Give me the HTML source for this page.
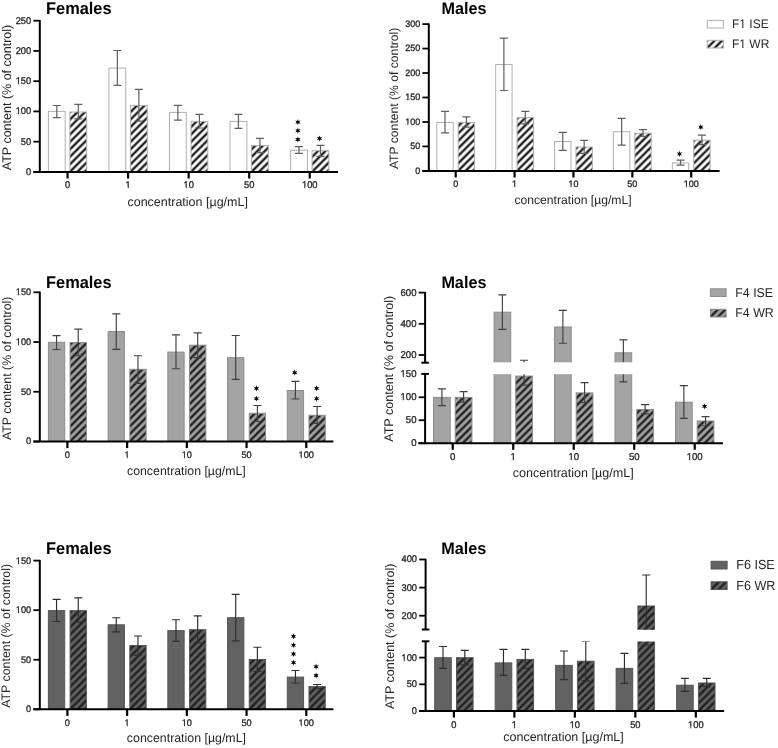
<!DOCTYPE html>
<html><head><meta charset="utf-8"><title>ATP content</title>
<style>html,body{margin:0;padding:0;background:#fff;}body{width:778px;height:748px;overflow:hidden;font-family:"Liberation Sans", sans-serif;}svg{display:block;will-change:transform;}</style>
</head><body>
<svg width="778" height="748" viewBox="0 0 778 748" font-family='"Liberation Sans", sans-serif' text-rendering="geometricPrecision"><defs><pattern id="p0" patternUnits="userSpaceOnUse" width="5.27" height="5.27" patternTransform="translate(69.8 171.9) rotate(45)"><rect width="5.27" height="5.27" fill="#fff"/><rect width="1.2" height="5.27" fill="#202020"/><rect x="4.07" width="1.2" height="5.27" fill="#202020"/></pattern><pattern id="p1" patternUnits="userSpaceOnUse" width="5.27" height="5.27" patternTransform="translate(130.35 171.9) rotate(45)"><rect width="5.27" height="5.27" fill="#fff"/><rect width="1.2" height="5.27" fill="#202020"/><rect x="4.07" width="1.2" height="5.27" fill="#202020"/></pattern><pattern id="p2" patternUnits="userSpaceOnUse" width="5.27" height="5.27" patternTransform="translate(190.9 171.9) rotate(45)"><rect width="5.27" height="5.27" fill="#fff"/><rect width="1.2" height="5.27" fill="#202020"/><rect x="4.07" width="1.2" height="5.27" fill="#202020"/></pattern><pattern id="p3" patternUnits="userSpaceOnUse" width="5.27" height="5.27" patternTransform="translate(251.45 171.9) rotate(45)"><rect width="5.27" height="5.27" fill="#fff"/><rect width="1.2" height="5.27" fill="#202020"/><rect x="4.07" width="1.2" height="5.27" fill="#202020"/></pattern><pattern id="p4" patternUnits="userSpaceOnUse" width="5.27" height="5.27" patternTransform="translate(312 171.9) rotate(45)"><rect width="5.27" height="5.27" fill="#fff"/><rect width="1.2" height="5.27" fill="#202020"/><rect x="4.07" width="1.2" height="5.27" fill="#202020"/></pattern><pattern id="p5" patternUnits="userSpaceOnUse" width="5.27" height="5.27" patternTransform="translate(458.1 170.9) rotate(45)"><rect width="5.27" height="5.27" fill="#fff"/><rect width="1.2" height="5.27" fill="#202020"/><rect x="4.07" width="1.2" height="5.27" fill="#202020"/></pattern><pattern id="p6" patternUnits="userSpaceOnUse" width="5.27" height="5.27" patternTransform="translate(516.98 170.9) rotate(45)"><rect width="5.27" height="5.27" fill="#fff"/><rect width="1.2" height="5.27" fill="#202020"/><rect x="4.07" width="1.2" height="5.27" fill="#202020"/></pattern><pattern id="p7" patternUnits="userSpaceOnUse" width="5.27" height="5.27" patternTransform="translate(575.86 170.9) rotate(45)"><rect width="5.27" height="5.27" fill="#fff"/><rect width="1.2" height="5.27" fill="#202020"/><rect x="4.07" width="1.2" height="5.27" fill="#202020"/></pattern><pattern id="p8" patternUnits="userSpaceOnUse" width="5.27" height="5.27" patternTransform="translate(634.74 170.9) rotate(45)"><rect width="5.27" height="5.27" fill="#fff"/><rect width="1.2" height="5.27" fill="#202020"/><rect x="4.07" width="1.2" height="5.27" fill="#202020"/></pattern><pattern id="p9" patternUnits="userSpaceOnUse" width="5.27" height="5.27" patternTransform="translate(693.62 170.9) rotate(45)"><rect width="5.27" height="5.27" fill="#fff"/><rect width="1.2" height="5.27" fill="#202020"/><rect x="4.07" width="1.2" height="5.27" fill="#202020"/></pattern><pattern id="p10" patternUnits="userSpaceOnUse" width="5.27" height="5.27" patternTransform="translate(706.7 48.5) rotate(45)"><rect width="5.27" height="5.27" fill="#fff"/><rect width="1.2" height="5.27" fill="#202020"/><rect x="4.07" width="1.2" height="5.27" fill="#202020"/></pattern><pattern id="p11" patternUnits="userSpaceOnUse" width="5.27" height="5.27" patternTransform="translate(70 441.5) rotate(45)"><rect width="5.27" height="5.27" fill="#a3a3a3"/><rect width="1.2" height="5.27" fill="#202020"/><rect x="4.07" width="1.2" height="5.27" fill="#202020"/></pattern><pattern id="p12" patternUnits="userSpaceOnUse" width="5.27" height="5.27" patternTransform="translate(129.72 441.5) rotate(45)"><rect width="5.27" height="5.27" fill="#a3a3a3"/><rect width="1.2" height="5.27" fill="#202020"/><rect x="4.07" width="1.2" height="5.27" fill="#202020"/></pattern><pattern id="p13" patternUnits="userSpaceOnUse" width="5.27" height="5.27" patternTransform="translate(189.44 441.5) rotate(45)"><rect width="5.27" height="5.27" fill="#a3a3a3"/><rect width="1.2" height="5.27" fill="#202020"/><rect x="4.07" width="1.2" height="5.27" fill="#202020"/></pattern><pattern id="p14" patternUnits="userSpaceOnUse" width="5.27" height="5.27" patternTransform="translate(249.16 441.5) rotate(45)"><rect width="5.27" height="5.27" fill="#a3a3a3"/><rect width="1.2" height="5.27" fill="#202020"/><rect x="4.07" width="1.2" height="5.27" fill="#202020"/></pattern><pattern id="p15" patternUnits="userSpaceOnUse" width="5.27" height="5.27" patternTransform="translate(308.88 441.5) rotate(45)"><rect width="5.27" height="5.27" fill="#a3a3a3"/><rect width="1.2" height="5.27" fill="#202020"/><rect x="4.07" width="1.2" height="5.27" fill="#202020"/></pattern><pattern id="p16" patternUnits="userSpaceOnUse" width="5.27" height="5.27" patternTransform="translate(455.15 443.2) rotate(45)"><rect width="5.27" height="5.27" fill="#a3a3a3"/><rect width="1.2" height="5.27" fill="#202020"/><rect x="4.07" width="1.2" height="5.27" fill="#202020"/></pattern><pattern id="p17" patternUnits="userSpaceOnUse" width="5.27" height="5.27" patternTransform="translate(515.64 443.2) rotate(45)"><rect width="5.27" height="5.27" fill="#a3a3a3"/><rect width="1.2" height="5.27" fill="#202020"/><rect x="4.07" width="1.2" height="5.27" fill="#202020"/></pattern><pattern id="p18" patternUnits="userSpaceOnUse" width="5.27" height="5.27" patternTransform="translate(576.13 443.2) rotate(45)"><rect width="5.27" height="5.27" fill="#a3a3a3"/><rect width="1.2" height="5.27" fill="#202020"/><rect x="4.07" width="1.2" height="5.27" fill="#202020"/></pattern><pattern id="p19" patternUnits="userSpaceOnUse" width="5.27" height="5.27" patternTransform="translate(636.62 443.2) rotate(45)"><rect width="5.27" height="5.27" fill="#a3a3a3"/><rect width="1.2" height="5.27" fill="#202020"/><rect x="4.07" width="1.2" height="5.27" fill="#202020"/></pattern><pattern id="p20" patternUnits="userSpaceOnUse" width="5.27" height="5.27" patternTransform="translate(697.11 443.2) rotate(45)"><rect width="5.27" height="5.27" fill="#a3a3a3"/><rect width="1.2" height="5.27" fill="#202020"/><rect x="4.07" width="1.2" height="5.27" fill="#202020"/></pattern><pattern id="p21" patternUnits="userSpaceOnUse" width="5.27" height="5.27" patternTransform="translate(709.9 317.5) rotate(45)"><rect width="5.27" height="5.27" fill="#a3a3a3"/><rect width="1.2" height="5.27" fill="#202020"/><rect x="4.07" width="1.2" height="5.27" fill="#202020"/></pattern><pattern id="p22" patternUnits="userSpaceOnUse" width="5.27" height="5.27" patternTransform="translate(70 709.3) rotate(45)"><rect width="5.27" height="5.27" fill="#626262"/><rect width="1.2" height="5.27" fill="#202020"/><rect x="4.07" width="1.2" height="5.27" fill="#202020"/></pattern><pattern id="p23" patternUnits="userSpaceOnUse" width="5.27" height="5.27" patternTransform="translate(129.72 709.3) rotate(45)"><rect width="5.27" height="5.27" fill="#626262"/><rect width="1.2" height="5.27" fill="#202020"/><rect x="4.07" width="1.2" height="5.27" fill="#202020"/></pattern><pattern id="p24" patternUnits="userSpaceOnUse" width="5.27" height="5.27" patternTransform="translate(189.44 709.3) rotate(45)"><rect width="5.27" height="5.27" fill="#626262"/><rect width="1.2" height="5.27" fill="#202020"/><rect x="4.07" width="1.2" height="5.27" fill="#202020"/></pattern><pattern id="p25" patternUnits="userSpaceOnUse" width="5.27" height="5.27" patternTransform="translate(249.16 709.3) rotate(45)"><rect width="5.27" height="5.27" fill="#626262"/><rect width="1.2" height="5.27" fill="#202020"/><rect x="4.07" width="1.2" height="5.27" fill="#202020"/></pattern><pattern id="p26" patternUnits="userSpaceOnUse" width="5.27" height="5.27" patternTransform="translate(308.88 709.3) rotate(45)"><rect width="5.27" height="5.27" fill="#626262"/><rect width="1.2" height="5.27" fill="#202020"/><rect x="4.07" width="1.2" height="5.27" fill="#202020"/></pattern><pattern id="p27" patternUnits="userSpaceOnUse" width="5.27" height="5.27" patternTransform="translate(456.4 711) rotate(45)"><rect width="5.27" height="5.27" fill="#626262"/><rect width="1.2" height="5.27" fill="#202020"/><rect x="4.07" width="1.2" height="5.27" fill="#202020"/></pattern><pattern id="p28" patternUnits="userSpaceOnUse" width="5.27" height="5.27" patternTransform="translate(516.88 711) rotate(45)"><rect width="5.27" height="5.27" fill="#626262"/><rect width="1.2" height="5.27" fill="#202020"/><rect x="4.07" width="1.2" height="5.27" fill="#202020"/></pattern><pattern id="p29" patternUnits="userSpaceOnUse" width="5.27" height="5.27" patternTransform="translate(577.36 711) rotate(45)"><rect width="5.27" height="5.27" fill="#626262"/><rect width="1.2" height="5.27" fill="#202020"/><rect x="4.07" width="1.2" height="5.27" fill="#202020"/></pattern><pattern id="p30" patternUnits="userSpaceOnUse" width="5.27" height="5.27" patternTransform="translate(637.84 711) rotate(45)"><rect width="5.27" height="5.27" fill="#626262"/><rect width="1.2" height="5.27" fill="#202020"/><rect x="4.07" width="1.2" height="5.27" fill="#202020"/></pattern><pattern id="p31" patternUnits="userSpaceOnUse" width="5.27" height="5.27" patternTransform="translate(698.32 711) rotate(45)"><rect width="5.27" height="5.27" fill="#626262"/><rect width="1.2" height="5.27" fill="#202020"/><rect x="4.07" width="1.2" height="5.27" fill="#202020"/></pattern><pattern id="p32" patternUnits="userSpaceOnUse" width="5.27" height="5.27" patternTransform="translate(710.6 590) rotate(45)"><rect width="5.27" height="5.27" fill="#626262"/><rect width="1.2" height="5.27" fill="#202020"/><rect x="4.07" width="1.2" height="5.27" fill="#202020"/></pattern></defs><rect width="778" height="748" fill="#fff"/><rect x="48.4" y="111.4" width="16.8" height="60.5" fill="#fff" stroke="#b0b0b0" stroke-width="1"/>
<rect x="69.9" y="112" width="16.8" height="59.9" fill="url(#p0)" stroke="#b0b0b0" stroke-width="1"/>
<rect x="108.95" y="68.1" width="16.8" height="103.8" fill="#fff" stroke="#b0b0b0" stroke-width="1"/>
<rect x="130.45" y="105.4" width="16.8" height="66.5" fill="url(#p1)" stroke="#b0b0b0" stroke-width="1"/>
<rect x="169.5" y="112.4" width="16.8" height="59.5" fill="#fff" stroke="#b0b0b0" stroke-width="1"/>
<rect x="191" y="121.4" width="16.8" height="50.5" fill="url(#p2)" stroke="#b0b0b0" stroke-width="1"/>
<rect x="230.05" y="121.4" width="16.8" height="50.5" fill="#fff" stroke="#b0b0b0" stroke-width="1"/>
<rect x="251.55" y="145.5" width="16.8" height="26.4" fill="url(#p3)" stroke="#b0b0b0" stroke-width="1"/>
<rect x="290.6" y="150.2" width="16.8" height="21.7" fill="#fff" stroke="#b0b0b0" stroke-width="1"/>
<rect x="312.1" y="150.7" width="16.8" height="21.2" fill="url(#p4)" stroke="#b0b0b0" stroke-width="1"/>
<path d="M56.8 105.5V117.6M52.8 105.5H60.8M52.8 117.6H60.8" stroke="#606060" stroke-width="1.2" fill="none"/>
<path d="M78.3 104.3V118.8M74.3 104.3H82.3M74.3 118.8H82.3" stroke="#606060" stroke-width="1.2" fill="none"/>
<path d="M117.35 50.5V85.3M113.35 50.5H121.35M113.35 85.3H121.35" stroke="#606060" stroke-width="1.2" fill="none"/>
<path d="M138.85 89.3V121.2M134.85 89.3H142.85M134.85 121.2H142.85" stroke="#606060" stroke-width="1.2" fill="none"/>
<path d="M177.9 105.3V120.1M173.9 105.3H181.9M173.9 120.1H181.9" stroke="#606060" stroke-width="1.2" fill="none"/>
<path d="M199.4 114.3V128M195.4 114.3H203.4M195.4 128H203.4" stroke="#606060" stroke-width="1.2" fill="none"/>
<path d="M238.45 114.3V128.3M234.45 114.3H242.45M234.45 128.3H242.45" stroke="#606060" stroke-width="1.2" fill="none"/>
<path d="M259.95 138.3V152.6M255.95 138.3H263.95M255.95 152.6H263.95" stroke="#606060" stroke-width="1.2" fill="none"/>
<path d="M299 146.6V153.4M295 146.6H303M295 153.4H303" stroke="#606060" stroke-width="1.2" fill="none"/>
<path d="M320.5 145.4V156.4M316.5 145.4H324.5M316.5 156.4H324.5" stroke="#606060" stroke-width="1.2" fill="none"/>
<path d="M39.8 20V171.9" stroke="#000" stroke-width="2" fill="none"/>
<path d="M33.4 171.9H39.8" stroke="#000" stroke-width="1.8" fill="none"/>
<text x="31.2" y="174.8" transform="translate(31.2 174.8) scale(1 1.04) translate(-31.2 -174.8)" text-anchor="end" font-size="9.3" fill="#262626" stroke="#262626" stroke-width="0.3">0</text>
<path d="M33.4 141.66H39.8" stroke="#000" stroke-width="1.8" fill="none"/>
<text x="31.2" y="144.56" transform="translate(31.2 144.56) scale(1 1.04) translate(-31.2 -144.56)" text-anchor="end" font-size="9.3" fill="#262626" stroke="#262626" stroke-width="0.3">50</text>
<path d="M33.4 111.42H39.8" stroke="#000" stroke-width="1.8" fill="none"/>
<text x="31.2" y="114.32" transform="translate(31.2 114.32) scale(1 1.04) translate(-31.2 -114.32)" text-anchor="end" font-size="9.3" fill="#262626" stroke="#262626" stroke-width="0.3">100</text>
<path d="M33.4 81.18H39.8" stroke="#000" stroke-width="1.8" fill="none"/>
<text x="31.2" y="84.08" transform="translate(31.2 84.08) scale(1 1.04) translate(-31.2 -84.08)" text-anchor="end" font-size="9.3" fill="#262626" stroke="#262626" stroke-width="0.3">150</text>
<path d="M33.4 50.94H39.8" stroke="#000" stroke-width="1.8" fill="none"/>
<text x="31.2" y="53.84" transform="translate(31.2 53.84) scale(1 1.04) translate(-31.2 -53.84)" text-anchor="end" font-size="9.3" fill="#262626" stroke="#262626" stroke-width="0.3">200</text>
<path d="M33.4 20.7H39.8" stroke="#000" stroke-width="1.8" fill="none"/>
<text x="31.2" y="23.6" transform="translate(31.2 23.6) scale(1 1.04) translate(-31.2 -23.6)" text-anchor="end" font-size="9.3" fill="#262626" stroke="#262626" stroke-width="0.3">250</text>
<path d="M33.4 171.9H338" stroke="#000" stroke-width="2" fill="none"/>
<path d="M67.55 171.9V178.5" stroke="#000" stroke-width="2.2" fill="none"/>
<text x="67.55" y="187.9" transform="translate(67.55 187.9) scale(1 1.04) translate(-67.55 -187.9)" text-anchor="middle" font-size="9.3" fill="#262626" stroke="#262626" stroke-width="0.3">0</text>
<path d="M128.1 171.9V178.5" stroke="#000" stroke-width="2.2" fill="none"/>
<text x="128.1" y="187.9" transform="translate(128.1 187.9) scale(1 1.04) translate(-128.1 -187.9)" text-anchor="middle" font-size="9.3" fill="#262626" stroke="#262626" stroke-width="0.3">1</text>
<path d="M188.65 171.9V178.5" stroke="#000" stroke-width="2.2" fill="none"/>
<text x="188.65" y="187.9" transform="translate(188.65 187.9) scale(1 1.04) translate(-188.65 -187.9)" text-anchor="middle" font-size="9.3" fill="#262626" stroke="#262626" stroke-width="0.3">10</text>
<path d="M249.2 171.9V178.5" stroke="#000" stroke-width="2.2" fill="none"/>
<text x="249.2" y="187.9" transform="translate(249.2 187.9) scale(1 1.04) translate(-249.2 -187.9)" text-anchor="middle" font-size="9.3" fill="#262626" stroke="#262626" stroke-width="0.3">50</text>
<path d="M309.75 171.9V178.5" stroke="#000" stroke-width="2.2" fill="none"/>
<text x="309.75" y="187.9" transform="translate(309.75 187.9) scale(1 1.04) translate(-309.75 -187.9)" text-anchor="middle" font-size="9.3" fill="#262626" stroke="#262626" stroke-width="0.3">100</text>
<text x="187.7" y="206.2" text-anchor="middle" font-size="12.5" fill="#262626">concentration [µg/mL]</text>
<text transform="translate(10.6 97.5) rotate(-90)" text-anchor="middle" font-size="12.5" fill="#262626">ATP content (% of control)</text>
<text x="46" y="13.9" transform="translate(46 13.9) scale(1 1.035) translate(-46 -13.9)" font-size="16.4" font-weight="bold" fill="#000">Females</text>
<polygon points="297.9,119 298.55,120.97 300.58,120.55 299.2,122.1 300.58,123.65 298.55,123.23 297.9,125.2 297.25,123.23 295.22,123.65 296.6,122.1 295.22,120.55 297.25,120.97" fill="#000"/>
<polygon points="297.9,127.6 298.55,129.57 300.58,129.15 299.2,130.7 300.58,132.25 298.55,131.83 297.9,133.8 297.25,131.83 295.22,132.25 296.6,130.7 295.22,129.15 297.25,129.57" fill="#000"/>
<polygon points="297.9,136.4 298.55,138.37 300.58,137.95 299.2,139.5 300.58,141.05 298.55,140.63 297.9,142.6 297.25,140.63 295.22,141.05 296.6,139.5 295.22,137.95 297.25,138.37" fill="#000"/>
<polygon points="319.5,135.4 320.15,137.37 322.18,136.95 320.8,138.5 322.18,140.05 320.15,139.63 319.5,141.6 318.85,139.63 316.82,140.05 318.2,138.5 316.82,136.95 318.85,137.37" fill="#000"/>
<rect x="436.8" y="122.4" width="16.4" height="48.5" fill="#fff" stroke="#b0b0b0" stroke-width="1"/>
<rect x="458.2" y="122.4" width="16.4" height="48.5" fill="url(#p5)" stroke="#b0b0b0" stroke-width="1"/>
<rect x="495.68" y="64.5" width="16.4" height="106.4" fill="#fff" stroke="#b0b0b0" stroke-width="1"/>
<rect x="517.08" y="117.6" width="16.4" height="53.3" fill="url(#p6)" stroke="#b0b0b0" stroke-width="1"/>
<rect x="554.56" y="141.5" width="16.4" height="29.4" fill="#fff" stroke="#b0b0b0" stroke-width="1"/>
<rect x="575.96" y="147" width="16.4" height="23.9" fill="url(#p7)" stroke="#b0b0b0" stroke-width="1"/>
<rect x="613.44" y="131.7" width="16.4" height="39.2" fill="#fff" stroke="#b0b0b0" stroke-width="1"/>
<rect x="634.84" y="133.2" width="16.4" height="37.7" fill="url(#p8)" stroke="#b0b0b0" stroke-width="1"/>
<rect x="672.32" y="163" width="16.4" height="7.9" fill="#fff" stroke="#b0b0b0" stroke-width="1"/>
<rect x="693.72" y="140.2" width="16.4" height="30.7" fill="url(#p9)" stroke="#b0b0b0" stroke-width="1"/>
<path d="M445 111.3V132.8M441 111.3H449M441 132.8H449" stroke="#606060" stroke-width="1.2" fill="none"/>
<path d="M466.4 116.8V127.1M462.4 116.8H470.4M462.4 127.1H470.4" stroke="#606060" stroke-width="1.2" fill="none"/>
<path d="M503.88 38.1V90.5M499.88 38.1H507.88M499.88 90.5H507.88" stroke="#606060" stroke-width="1.2" fill="none"/>
<path d="M525.28 111.3V123.8M521.28 111.3H529.28M521.28 123.8H529.28" stroke="#606060" stroke-width="1.2" fill="none"/>
<path d="M562.76 132.3V150.4M558.76 132.3H566.76M558.76 150.4H566.76" stroke="#606060" stroke-width="1.2" fill="none"/>
<path d="M584.16 140.4V153.4M580.16 140.4H588.16M580.16 153.4H588.16" stroke="#606060" stroke-width="1.2" fill="none"/>
<path d="M621.64 118.3V145.1M617.64 118.3H625.64M617.64 145.1H625.64" stroke="#606060" stroke-width="1.2" fill="none"/>
<path d="M643.04 129.6V136.3M639.04 129.6H647.04M639.04 136.3H647.04" stroke="#606060" stroke-width="1.2" fill="none"/>
<path d="M680.52 160.2V165.2M676.52 160.2H684.52M676.52 165.2H684.52" stroke="#606060" stroke-width="1.2" fill="none"/>
<path d="M701.92 135.1V144.6M697.92 135.1H705.92M697.92 144.6H705.92" stroke="#606060" stroke-width="1.2" fill="none"/>
<path d="M428.8 23.4V170.9" stroke="#000" stroke-width="2" fill="none"/>
<path d="M422.4 170.9H428.8" stroke="#000" stroke-width="1.8" fill="none"/>
<text x="420.2" y="173.8" transform="translate(420.2 173.8) scale(1 1.04) translate(-420.2 -173.8)" text-anchor="end" font-size="9.0" fill="#262626" stroke="#262626" stroke-width="0.3">0</text>
<path d="M422.4 146.43H428.8" stroke="#000" stroke-width="1.8" fill="none"/>
<text x="420.2" y="149.33" transform="translate(420.2 149.33) scale(1 1.04) translate(-420.2 -149.33)" text-anchor="end" font-size="9.0" fill="#262626" stroke="#262626" stroke-width="0.3">50</text>
<path d="M422.4 121.97H428.8" stroke="#000" stroke-width="1.8" fill="none"/>
<text x="420.2" y="124.87" transform="translate(420.2 124.87) scale(1 1.04) translate(-420.2 -124.87)" text-anchor="end" font-size="9.0" fill="#262626" stroke="#262626" stroke-width="0.3">100</text>
<path d="M422.4 97.5H428.8" stroke="#000" stroke-width="1.8" fill="none"/>
<text x="420.2" y="100.4" transform="translate(420.2 100.4) scale(1 1.04) translate(-420.2 -100.4)" text-anchor="end" font-size="9.0" fill="#262626" stroke="#262626" stroke-width="0.3">150</text>
<path d="M422.4 73.03H428.8" stroke="#000" stroke-width="1.8" fill="none"/>
<text x="420.2" y="75.93" transform="translate(420.2 75.93) scale(1 1.04) translate(-420.2 -75.93)" text-anchor="end" font-size="9.0" fill="#262626" stroke="#262626" stroke-width="0.3">200</text>
<path d="M422.4 48.57H428.8" stroke="#000" stroke-width="1.8" fill="none"/>
<text x="420.2" y="51.47" transform="translate(420.2 51.47) scale(1 1.04) translate(-420.2 -51.47)" text-anchor="end" font-size="9.0" fill="#262626" stroke="#262626" stroke-width="0.3">250</text>
<path d="M422.4 24.1H428.8" stroke="#000" stroke-width="1.8" fill="none"/>
<text x="420.2" y="27" transform="translate(420.2 27) scale(1 1.04) translate(-420.2 -27)" text-anchor="end" font-size="9.0" fill="#262626" stroke="#262626" stroke-width="0.3">300</text>
<path d="M422.4 170.9H719.6" stroke="#000" stroke-width="2" fill="none"/>
<path d="M455.7 170.9V177.5" stroke="#000" stroke-width="2.2" fill="none"/>
<text x="455.7" y="187.1" transform="translate(455.7 187.1) scale(1 1.04) translate(-455.7 -187.1)" text-anchor="middle" font-size="9.0" fill="#262626" stroke="#262626" stroke-width="0.3">0</text>
<path d="M514.58 170.9V177.5" stroke="#000" stroke-width="2.2" fill="none"/>
<text x="514.58" y="187.1" transform="translate(514.58 187.1) scale(1 1.04) translate(-514.58 -187.1)" text-anchor="middle" font-size="9.0" fill="#262626" stroke="#262626" stroke-width="0.3">1</text>
<path d="M573.46 170.9V177.5" stroke="#000" stroke-width="2.2" fill="none"/>
<text x="573.46" y="187.1" transform="translate(573.46 187.1) scale(1 1.04) translate(-573.46 -187.1)" text-anchor="middle" font-size="9.0" fill="#262626" stroke="#262626" stroke-width="0.3">10</text>
<path d="M632.34 170.9V177.5" stroke="#000" stroke-width="2.2" fill="none"/>
<text x="632.34" y="187.1" transform="translate(632.34 187.1) scale(1 1.04) translate(-632.34 -187.1)" text-anchor="middle" font-size="9.0" fill="#262626" stroke="#262626" stroke-width="0.3">50</text>
<path d="M691.22 170.9V177.5" stroke="#000" stroke-width="2.2" fill="none"/>
<text x="691.22" y="187.1" transform="translate(691.22 187.1) scale(1 1.04) translate(-691.22 -187.1)" text-anchor="middle" font-size="9.0" fill="#262626" stroke="#262626" stroke-width="0.3">100</text>
<text x="573" y="204.4" text-anchor="middle" font-size="12.17" fill="#262626">concentration [µg/mL]</text>
<text transform="translate(397.6 98.4) rotate(-90)" text-anchor="middle" font-size="12.17" fill="#262626">ATP content (% of control)</text>
<text x="441.6" y="14.2" transform="translate(441.6 14.2) scale(1 1.035) translate(-441.6 -14.2)" font-size="16.2" font-weight="bold" fill="#000">Males</text>
<polygon points="679.5,150.8 680.15,152.77 682.18,152.35 680.8,153.9 682.18,155.45 680.15,155.03 679.5,157 678.85,155.03 676.82,155.45 678.2,153.9 676.82,152.35 678.85,152.77" fill="#000"/>
<polygon points="700.8,124 701.45,125.97 703.48,125.55 702.1,127.1 703.48,128.65 701.45,128.23 700.8,130.2 700.15,128.23 698.12,128.65 699.5,127.1 698.12,125.55 700.15,125.97" fill="#000"/>
<rect x="707.2" y="20.3" width="16.2" height="7.7" fill="#fff" stroke="#b0b0b0" stroke-width="1"/>
<rect x="707.2" y="40.3" width="16.2" height="7.7" fill="url(#p10)" stroke="#b0b0b0" stroke-width="1"/>
<text x="732" y="28" transform="translate(732 28) scale(1 1.04) translate(-732 -28)" font-size="12.0" fill="#262626">F1 ISE</text>
<text x="732" y="48" transform="translate(732 48) scale(1 1.04) translate(-732 -48)" font-size="12.0" fill="#262626">F1 WR</text>
<rect x="48.4" y="342.3" width="16.3" height="99.2" fill="#a3a3a3" stroke="#8c8c8c" stroke-width="1"/>
<rect x="70.1" y="342.5" width="16.3" height="99" fill="url(#p11)" stroke="#8c8c8c" stroke-width="1"/>
<rect x="108.12" y="331.5" width="16.3" height="110" fill="#a3a3a3" stroke="#8c8c8c" stroke-width="1"/>
<rect x="129.82" y="369.3" width="16.3" height="72.2" fill="url(#p12)" stroke="#8c8c8c" stroke-width="1"/>
<rect x="167.84" y="352.1" width="16.3" height="89.4" fill="#a3a3a3" stroke="#8c8c8c" stroke-width="1"/>
<rect x="189.54" y="345.2" width="16.3" height="96.3" fill="url(#p13)" stroke="#8c8c8c" stroke-width="1"/>
<rect x="227.56" y="357.7" width="16.3" height="83.8" fill="#a3a3a3" stroke="#8c8c8c" stroke-width="1"/>
<rect x="249.26" y="413.3" width="16.3" height="28.2" fill="url(#p14)" stroke="#8c8c8c" stroke-width="1"/>
<rect x="287.28" y="390.5" width="16.3" height="51" fill="#a3a3a3" stroke="#8c8c8c" stroke-width="1"/>
<rect x="308.98" y="415.3" width="16.3" height="26.2" fill="url(#p15)" stroke="#8c8c8c" stroke-width="1"/>
<path d="M56.55 335.6V349.5M52.55 335.6H60.55M52.55 349.5H60.55" stroke="#404040" stroke-width="1.15" fill="none"/>
<path d="M78.25 329.1V355.7M74.25 329.1H82.25M74.25 355.7H82.25" stroke="#404040" stroke-width="1.15" fill="none"/>
<path d="M116.27 313.9V349.4M112.27 313.9H120.27M112.27 349.4H120.27" stroke="#404040" stroke-width="1.15" fill="none"/>
<path d="M137.97 355.7V383.3M133.97 355.7H141.97M133.97 383.3H141.97" stroke="#404040" stroke-width="1.15" fill="none"/>
<path d="M175.99 334.9V368.7M171.99 334.9H179.99M171.99 368.7H179.99" stroke="#404040" stroke-width="1.15" fill="none"/>
<path d="M197.69 332.8V357.6M193.69 332.8H201.69M193.69 357.6H201.69" stroke="#404040" stroke-width="1.15" fill="none"/>
<path d="M235.71 335.5V379.4M231.71 335.5H239.71M231.71 379.4H239.71" stroke="#404040" stroke-width="1.15" fill="none"/>
<path d="M257.41 405.5V421.5M253.41 405.5H261.41M253.41 421.5H261.41" stroke="#404040" stroke-width="1.15" fill="none"/>
<path d="M295.43 381.4V399M291.43 381.4H299.43M291.43 399H299.43" stroke="#404040" stroke-width="1.15" fill="none"/>
<path d="M317.13 406.5V423.3M313.13 406.5H321.13M313.13 423.3H321.13" stroke="#404040" stroke-width="1.15" fill="none"/>
<path d="M39.8 291.6V441.5" stroke="#000" stroke-width="2" fill="none"/>
<path d="M33.4 441.5H39.8" stroke="#000" stroke-width="1.8" fill="none"/>
<text x="31.2" y="444.4" transform="translate(31.2 444.4) scale(1 1.04) translate(-31.2 -444.4)" text-anchor="end" font-size="9.2" fill="#262626" stroke="#262626" stroke-width="0.3">0</text>
<path d="M33.4 391.77H39.8" stroke="#000" stroke-width="1.8" fill="none"/>
<text x="31.2" y="394.67" transform="translate(31.2 394.67) scale(1 1.04) translate(-31.2 -394.67)" text-anchor="end" font-size="9.2" fill="#262626" stroke="#262626" stroke-width="0.3">50</text>
<path d="M33.4 342.03H39.8" stroke="#000" stroke-width="1.8" fill="none"/>
<text x="31.2" y="344.93" transform="translate(31.2 344.93) scale(1 1.04) translate(-31.2 -344.93)" text-anchor="end" font-size="9.2" fill="#262626" stroke="#262626" stroke-width="0.3">100</text>
<path d="M33.4 292.3H39.8" stroke="#000" stroke-width="1.8" fill="none"/>
<text x="31.2" y="295.2" transform="translate(31.2 295.2) scale(1 1.04) translate(-31.2 -295.2)" text-anchor="end" font-size="9.2" fill="#262626" stroke="#262626" stroke-width="0.3">150</text>
<path d="M33.4 441.5H333.4" stroke="#000" stroke-width="2" fill="none"/>
<path d="M67.4 441.5V448.1" stroke="#000" stroke-width="2.2" fill="none"/>
<text x="67.4" y="458" transform="translate(67.4 458) scale(1 1.04) translate(-67.4 -458)" text-anchor="middle" font-size="9.2" fill="#262626" stroke="#262626" stroke-width="0.3">0</text>
<path d="M127.12 441.5V448.1" stroke="#000" stroke-width="2.2" fill="none"/>
<text x="127.12" y="458" transform="translate(127.12 458) scale(1 1.04) translate(-127.12 -458)" text-anchor="middle" font-size="9.2" fill="#262626" stroke="#262626" stroke-width="0.3">1</text>
<path d="M186.84 441.5V448.1" stroke="#000" stroke-width="2.2" fill="none"/>
<text x="186.84" y="458" transform="translate(186.84 458) scale(1 1.04) translate(-186.84 -458)" text-anchor="middle" font-size="9.2" fill="#262626" stroke="#262626" stroke-width="0.3">10</text>
<path d="M246.56 441.5V448.1" stroke="#000" stroke-width="2.2" fill="none"/>
<text x="246.56" y="458" transform="translate(246.56 458) scale(1 1.04) translate(-246.56 -458)" text-anchor="middle" font-size="9.2" fill="#262626" stroke="#262626" stroke-width="0.3">50</text>
<path d="M306.28 441.5V448.1" stroke="#000" stroke-width="2.2" fill="none"/>
<text x="306.28" y="458" transform="translate(306.28 458) scale(1 1.04) translate(-306.28 -458)" text-anchor="middle" font-size="9.2" fill="#262626" stroke="#262626" stroke-width="0.3">100</text>
<text x="186.4" y="474.6" text-anchor="middle" font-size="12.33" fill="#262626">concentration [µg/mL]</text>
<text transform="translate(10.9 368.35) rotate(-90)" text-anchor="middle" font-size="12.33" fill="#262626">ATP content (% of control)</text>
<text x="46" y="288.3" transform="translate(46 288.3) scale(1 1.035) translate(-46 -288.3)" font-size="16.4" font-weight="bold" fill="#000">Females</text>
<polygon points="256.4,385.3 257.05,387.27 259.08,386.85 257.7,388.4 259.08,389.95 257.05,389.53 256.4,391.5 255.75,389.53 253.72,389.95 255.1,388.4 253.72,386.85 255.75,387.27" fill="#000"/>
<polygon points="256.4,395.6 257.05,397.57 259.08,397.15 257.7,398.7 259.08,400.25 257.05,399.83 256.4,401.8 255.75,399.83 253.72,400.25 255.1,398.7 253.72,397.15 255.75,397.57" fill="#000"/>
<polygon points="294.8,369.5 295.45,371.47 297.48,371.05 296.1,372.6 297.48,374.15 295.45,373.73 294.8,375.7 294.15,373.73 292.12,374.15 293.5,372.6 292.12,371.05 294.15,371.47" fill="#000"/>
<polygon points="316.6,385.3 317.25,387.27 319.28,386.85 317.9,388.4 319.28,389.95 317.25,389.53 316.6,391.5 315.95,389.53 313.92,389.95 315.3,388.4 313.92,386.85 315.95,387.27" fill="#000"/>
<polygon points="316.6,395.6 317.25,397.57 319.28,397.15 317.9,398.7 319.28,400.25 317.25,399.83 316.6,401.8 315.95,399.83 313.92,400.25 315.3,398.7 313.92,397.15 315.95,397.57" fill="#000"/>
<rect x="433.55" y="397.4" width="16.7" height="45.8" fill="#a3a3a3" stroke="#8c8c8c" stroke-width="1"/>
<rect x="455.25" y="397.4" width="16.7" height="45.8" fill="url(#p16)" stroke="#8c8c8c" stroke-width="1"/>
<rect x="494.04" y="312.2" width="16.7" height="131" fill="#a3a3a3" stroke="#8c8c8c" stroke-width="1"/>
<rect x="515.74" y="376.1" width="16.7" height="67.1" fill="url(#p17)" stroke="#8c8c8c" stroke-width="1"/>
<rect x="554.53" y="327" width="16.7" height="116.2" fill="#a3a3a3" stroke="#8c8c8c" stroke-width="1"/>
<rect x="576.23" y="392.9" width="16.7" height="50.3" fill="url(#p18)" stroke="#8c8c8c" stroke-width="1"/>
<rect x="615.02" y="352.8" width="16.7" height="90.4" fill="#a3a3a3" stroke="#8c8c8c" stroke-width="1"/>
<rect x="636.72" y="409.5" width="16.7" height="33.7" fill="url(#p19)" stroke="#8c8c8c" stroke-width="1"/>
<rect x="675.51" y="402.2" width="16.7" height="41" fill="#a3a3a3" stroke="#8c8c8c" stroke-width="1"/>
<rect x="697.21" y="421" width="16.7" height="22.2" fill="url(#p20)" stroke="#8c8c8c" stroke-width="1"/>
<path d="M441.9 388.8V405.6M437.9 388.8H445.9M437.9 405.6H445.9" stroke="#404040" stroke-width="1.15" fill="none"/>
<path d="M463.6 391.6V402.1M459.6 391.6H467.6M459.6 402.1H467.6" stroke="#404040" stroke-width="1.15" fill="none"/>
<path d="M502.39 294.8V329.4M498.39 294.8H506.39M498.39 329.4H506.39" stroke="#404040" stroke-width="1.15" fill="none"/>
<path d="M524.09 360.2V385.1M520.09 360.2H528.09M520.09 385.1H528.09" stroke="#404040" stroke-width="1.15" fill="none"/>
<path d="M562.88 310.4V343.2M558.88 310.4H566.88M558.88 343.2H566.88" stroke="#404040" stroke-width="1.15" fill="none"/>
<path d="M584.58 382.6V402.6M580.58 382.6H588.58M580.58 402.6H588.58" stroke="#404040" stroke-width="1.15" fill="none"/>
<path d="M623.37 339.9V381.8M619.37 339.9H627.37M619.37 381.8H627.37" stroke="#404040" stroke-width="1.15" fill="none"/>
<path d="M645.07 404.6V413.9M641.07 404.6H649.07M641.07 413.9H649.07" stroke="#404040" stroke-width="1.15" fill="none"/>
<path d="M683.86 385.6V418.4M679.86 385.6H687.86M679.86 418.4H687.86" stroke="#404040" stroke-width="1.15" fill="none"/>
<path d="M705.56 416.6V425.7M701.56 416.6H709.56M701.56 425.7H709.56" stroke="#404040" stroke-width="1.15" fill="none"/>
<rect x="427.1" y="362.3" width="297.8" height="11.9" fill="#fff"/>
<path d="M425.1 292V362.7" stroke="#000" stroke-width="2" fill="none"/>
<path d="M418.7 355H425.1" stroke="#000" stroke-width="1.8" fill="none"/>
<text x="416.5" y="357.9" transform="translate(416.5 357.9) scale(1 1.04) translate(-416.5 -357.9)" text-anchor="end" font-size="9.6" fill="#262626" stroke="#262626" stroke-width="0.3">200</text>
<path d="M418.7 323.8H425.1" stroke="#000" stroke-width="1.8" fill="none"/>
<text x="416.5" y="326.7" transform="translate(416.5 326.7) scale(1 1.04) translate(-416.5 -326.7)" text-anchor="end" font-size="9.6" fill="#262626" stroke="#262626" stroke-width="0.3">400</text>
<path d="M418.7 292.6H425.1" stroke="#000" stroke-width="1.8" fill="none"/>
<text x="416.5" y="295.5" transform="translate(416.5 295.5) scale(1 1.04) translate(-416.5 -295.5)" text-anchor="end" font-size="9.6" fill="#262626" stroke="#262626" stroke-width="0.3">600</text>
<path d="M421.3 362.7H428.9" stroke="#000" stroke-width="2" fill="none"/>
<path d="M425.1 373.9V443.2" stroke="#000" stroke-width="2" fill="none"/>
<path d="M418.7 443.2H425.1" stroke="#000" stroke-width="1.8" fill="none"/>
<text x="416.5" y="446.1" transform="translate(416.5 446.1) scale(1 1.04) translate(-416.5 -446.1)" text-anchor="end" font-size="9.6" fill="#262626" stroke="#262626" stroke-width="0.3">0</text>
<path d="M418.7 420.23H425.1" stroke="#000" stroke-width="1.8" fill="none"/>
<text x="416.5" y="423.13" transform="translate(416.5 423.13) scale(1 1.04) translate(-416.5 -423.13)" text-anchor="end" font-size="9.6" fill="#262626" stroke="#262626" stroke-width="0.3">50</text>
<path d="M418.7 397.27H425.1" stroke="#000" stroke-width="1.8" fill="none"/>
<text x="416.5" y="400.17" transform="translate(416.5 400.17) scale(1 1.04) translate(-416.5 -400.17)" text-anchor="end" font-size="9.6" fill="#262626" stroke="#262626" stroke-width="0.3">100</text>
<text x="416.5" y="376.8" transform="translate(416.5 376.8) scale(1 1.04) translate(-416.5 -376.8)" text-anchor="end" font-size="9.6" fill="#262626" stroke="#262626" stroke-width="0.3">150</text>
<path d="M421.3 373.9H428.9" stroke="#000" stroke-width="2" fill="none"/>
<path d="M418.4 443.2H722.9" stroke="#000" stroke-width="2" fill="none"/>
<path d="M452.75 443.2V449.8" stroke="#000" stroke-width="2.2" fill="none"/>
<text x="452.75" y="460.2" transform="translate(452.75 460.2) scale(1 1.04) translate(-452.75 -460.2)" text-anchor="middle" font-size="9.6" fill="#262626" stroke="#262626" stroke-width="0.3">0</text>
<path d="M513.24 443.2V449.8" stroke="#000" stroke-width="2.2" fill="none"/>
<text x="513.24" y="460.2" transform="translate(513.24 460.2) scale(1 1.04) translate(-513.24 -460.2)" text-anchor="middle" font-size="9.6" fill="#262626" stroke="#262626" stroke-width="0.3">1</text>
<path d="M573.73 443.2V449.8" stroke="#000" stroke-width="2.2" fill="none"/>
<text x="573.73" y="460.2" transform="translate(573.73 460.2) scale(1 1.04) translate(-573.73 -460.2)" text-anchor="middle" font-size="9.6" fill="#262626" stroke="#262626" stroke-width="0.3">10</text>
<path d="M634.22 443.2V449.8" stroke="#000" stroke-width="2.2" fill="none"/>
<text x="634.22" y="460.2" transform="translate(634.22 460.2) scale(1 1.04) translate(-634.22 -460.2)" text-anchor="middle" font-size="9.6" fill="#262626" stroke="#262626" stroke-width="0.3">50</text>
<path d="M694.71 443.2V449.8" stroke="#000" stroke-width="2.2" fill="none"/>
<text x="694.71" y="460.2" transform="translate(694.71 460.2) scale(1 1.04) translate(-694.71 -460.2)" text-anchor="middle" font-size="9.6" fill="#262626" stroke="#262626" stroke-width="0.3">100</text>
<text x="573.2" y="477" text-anchor="middle" font-size="12.55" fill="#262626">concentration [µg/mL]</text>
<text transform="translate(393.2 368.8) rotate(-90)" text-anchor="middle" font-size="12.55" fill="#262626">ATP content (% of control)</text>
<text x="441.4" y="288.3" transform="translate(441.4 288.3) scale(1 1.035) translate(-441.4 -288.3)" font-size="16.2" font-weight="bold" fill="#000">Males</text>
<polygon points="704.6,403.3 705.25,405.27 707.28,404.85 705.9,406.4 707.28,407.95 705.25,407.53 704.6,409.5 703.95,407.53 701.92,407.95 703.3,406.4 701.92,404.85 703.95,405.27" fill="#000"/>
<rect x="710.4" y="288.8" width="15.7" height="7.7" fill="#a3a3a3" stroke="#8c8c8c" stroke-width="1"/>
<rect x="710.4" y="309.3" width="15.7" height="7.7" fill="url(#p21)" stroke="#8c8c8c" stroke-width="1"/>
<text x="735.3" y="296.5" transform="translate(735.3 296.5) scale(1 1.04) translate(-735.3 -296.5)" font-size="12.35" fill="#262626">F4 ISE</text>
<text x="735.3" y="317" transform="translate(735.3 317) scale(1 1.04) translate(-735.3 -317)" font-size="12.35" fill="#262626">F4 WR</text>
<rect x="48.4" y="610.6" width="16.3" height="98.7" fill="#626262" stroke="#555" stroke-width="1"/>
<rect x="70.1" y="610.6" width="16.3" height="98.7" fill="url(#p22)" stroke="#555" stroke-width="1"/>
<rect x="108.12" y="624.8" width="16.3" height="84.5" fill="#626262" stroke="#555" stroke-width="1"/>
<rect x="129.82" y="645.5" width="16.3" height="63.8" fill="url(#p23)" stroke="#555" stroke-width="1"/>
<rect x="167.84" y="630.6" width="16.3" height="78.7" fill="#626262" stroke="#555" stroke-width="1"/>
<rect x="189.54" y="629.7" width="16.3" height="79.6" fill="url(#p24)" stroke="#555" stroke-width="1"/>
<rect x="227.56" y="617.7" width="16.3" height="91.6" fill="#626262" stroke="#555" stroke-width="1"/>
<rect x="249.26" y="659.5" width="16.3" height="49.8" fill="url(#p25)" stroke="#555" stroke-width="1"/>
<rect x="287.28" y="677.1" width="16.3" height="32.2" fill="#626262" stroke="#555" stroke-width="1"/>
<rect x="308.98" y="686.6" width="16.3" height="22.7" fill="url(#p26)" stroke="#555" stroke-width="1"/>
<path d="M56.55 599.4V621.5M52.55 599.4H60.55M52.55 621.5H60.55" stroke="#2e2e2e" stroke-width="1.15" fill="none"/>
<path d="M78.25 597.9V622.2M74.25 597.9H82.25M74.25 622.2H82.25" stroke="#2e2e2e" stroke-width="1.15" fill="none"/>
<path d="M116.27 617.7V631.8M112.27 617.7H120.27M112.27 631.8H120.27" stroke="#2e2e2e" stroke-width="1.15" fill="none"/>
<path d="M137.97 636V655.1M133.97 636H141.97M133.97 655.1H141.97" stroke="#2e2e2e" stroke-width="1.15" fill="none"/>
<path d="M175.99 619.7V641.4M171.99 619.7H179.99M171.99 641.4H179.99" stroke="#2e2e2e" stroke-width="1.15" fill="none"/>
<path d="M197.69 615.8V642.7M193.69 615.8H201.69M193.69 642.7H201.69" stroke="#2e2e2e" stroke-width="1.15" fill="none"/>
<path d="M235.71 594.3V640.9M231.71 594.3H239.71M231.71 640.9H239.71" stroke="#2e2e2e" stroke-width="1.15" fill="none"/>
<path d="M257.41 647.2V671.5M253.41 647.2H261.41M253.41 671.5H261.41" stroke="#2e2e2e" stroke-width="1.15" fill="none"/>
<path d="M295.43 670.5V683M291.43 670.5H299.43M291.43 683H299.43" stroke="#2e2e2e" stroke-width="1.15" fill="none"/>
<path d="M317.13 684.5V688.3M313.13 684.5H321.13M313.13 688.3H321.13" stroke="#2e2e2e" stroke-width="1.15" fill="none"/>
<path d="M39.8 559.9V709.3" stroke="#000" stroke-width="2" fill="none"/>
<path d="M33.4 709.3H39.8" stroke="#000" stroke-width="1.8" fill="none"/>
<text x="31.2" y="712.2" transform="translate(31.2 712.2) scale(1 1.04) translate(-31.2 -712.2)" text-anchor="end" font-size="9.2" fill="#262626" stroke="#262626" stroke-width="0.3">0</text>
<path d="M33.4 659.73H39.8" stroke="#000" stroke-width="1.8" fill="none"/>
<text x="31.2" y="662.63" transform="translate(31.2 662.63) scale(1 1.04) translate(-31.2 -662.63)" text-anchor="end" font-size="9.2" fill="#262626" stroke="#262626" stroke-width="0.3">50</text>
<path d="M33.4 610.17H39.8" stroke="#000" stroke-width="1.8" fill="none"/>
<text x="31.2" y="613.07" transform="translate(31.2 613.07) scale(1 1.04) translate(-31.2 -613.07)" text-anchor="end" font-size="9.2" fill="#262626" stroke="#262626" stroke-width="0.3">100</text>
<path d="M33.4 560.6H39.8" stroke="#000" stroke-width="1.8" fill="none"/>
<text x="31.2" y="563.5" transform="translate(31.2 563.5) scale(1 1.04) translate(-31.2 -563.5)" text-anchor="end" font-size="9.2" fill="#262626" stroke="#262626" stroke-width="0.3">150</text>
<path d="M33.4 709.3H333.4" stroke="#000" stroke-width="2" fill="none"/>
<path d="M67.4 709.3V715.9" stroke="#000" stroke-width="2.2" fill="none"/>
<text x="67.4" y="726" transform="translate(67.4 726) scale(1 1.04) translate(-67.4 -726)" text-anchor="middle" font-size="9.2" fill="#262626" stroke="#262626" stroke-width="0.3">0</text>
<path d="M127.12 709.3V715.9" stroke="#000" stroke-width="2.2" fill="none"/>
<text x="127.12" y="726" transform="translate(127.12 726) scale(1 1.04) translate(-127.12 -726)" text-anchor="middle" font-size="9.2" fill="#262626" stroke="#262626" stroke-width="0.3">1</text>
<path d="M186.84 709.3V715.9" stroke="#000" stroke-width="2.2" fill="none"/>
<text x="186.84" y="726" transform="translate(186.84 726) scale(1 1.04) translate(-186.84 -726)" text-anchor="middle" font-size="9.2" fill="#262626" stroke="#262626" stroke-width="0.3">10</text>
<path d="M246.56 709.3V715.9" stroke="#000" stroke-width="2.2" fill="none"/>
<text x="246.56" y="726" transform="translate(246.56 726) scale(1 1.04) translate(-246.56 -726)" text-anchor="middle" font-size="9.2" fill="#262626" stroke="#262626" stroke-width="0.3">50</text>
<path d="M306.28 709.3V715.9" stroke="#000" stroke-width="2.2" fill="none"/>
<text x="306.28" y="726" transform="translate(306.28 726) scale(1 1.04) translate(-306.28 -726)" text-anchor="middle" font-size="9.2" fill="#262626" stroke="#262626" stroke-width="0.3">100</text>
<text x="186.4" y="742.4" text-anchor="middle" font-size="12.36" fill="#262626">concentration [µg/mL]</text>
<text transform="translate(10 635.9) rotate(-90)" text-anchor="middle" font-size="12.36" fill="#262626">ATP content (% of control)</text>
<text x="46" y="554.3" transform="translate(46 554.3) scale(1 1.035) translate(-46 -554.3)" font-size="16.4" font-weight="bold" fill="#000">Females</text>
<polygon points="293.5,633.3 294.15,635.27 296.18,634.85 294.8,636.4 296.18,637.95 294.15,637.53 293.5,639.5 292.85,637.53 290.82,637.95 292.2,636.4 290.82,634.85 292.85,635.27" fill="#000"/>
<polygon points="293.5,642.1 294.15,644.07 296.18,643.65 294.8,645.2 296.18,646.75 294.15,646.33 293.5,648.3 292.85,646.33 290.82,646.75 292.2,645.2 290.82,643.65 292.85,644.07" fill="#000"/>
<polygon points="293.5,650.9 294.15,652.87 296.18,652.45 294.8,654 296.18,655.55 294.15,655.13 293.5,657.1 292.85,655.13 290.82,655.55 292.2,654 290.82,652.45 292.85,652.87" fill="#000"/>
<polygon points="293.5,659.5 294.15,661.47 296.18,661.05 294.8,662.6 296.18,664.15 294.15,663.73 293.5,665.7 292.85,663.73 290.82,664.15 292.2,662.6 290.82,661.05 292.85,661.47" fill="#000"/>
<polygon points="316.1,663.6 316.75,665.57 318.78,665.15 317.4,666.7 318.78,668.25 316.75,667.83 316.1,669.8 315.45,667.83 313.42,668.25 314.8,666.7 313.42,665.15 315.45,665.57" fill="#000"/>
<polygon points="316.1,672.4 316.75,674.37 318.78,673.95 317.4,675.5 318.78,677.05 316.75,676.63 316.1,678.6 315.45,676.63 313.42,677.05 314.8,675.5 313.42,673.95 315.45,674.37" fill="#000"/>
<rect x="434.7" y="657.7" width="16.6" height="53.3" fill="#626262" stroke="#555" stroke-width="1"/>
<rect x="456.5" y="657.7" width="16.6" height="53.3" fill="url(#p27)" stroke="#555" stroke-width="1"/>
<rect x="495.18" y="662.9" width="16.6" height="48.1" fill="#626262" stroke="#555" stroke-width="1"/>
<rect x="516.98" y="659.4" width="16.6" height="51.6" fill="url(#p28)" stroke="#555" stroke-width="1"/>
<rect x="555.66" y="665.4" width="16.6" height="45.6" fill="#626262" stroke="#555" stroke-width="1"/>
<rect x="577.46" y="661.2" width="16.6" height="49.8" fill="url(#p29)" stroke="#555" stroke-width="1"/>
<rect x="616.14" y="668.4" width="16.6" height="42.6" fill="#626262" stroke="#555" stroke-width="1"/>
<rect x="637.94" y="606" width="16.6" height="105" fill="url(#p30)" stroke="#555" stroke-width="1"/>
<rect x="676.62" y="685.2" width="16.6" height="25.8" fill="#626262" stroke="#555" stroke-width="1"/>
<rect x="698.42" y="683" width="16.6" height="28" fill="url(#p31)" stroke="#555" stroke-width="1"/>
<path d="M443 646.5V668.3M439 646.5H447M439 668.3H447" stroke="#2e2e2e" stroke-width="1.15" fill="none"/>
<path d="M464.8 650.3V664.8M460.8 650.3H468.8M460.8 664.8H468.8" stroke="#2e2e2e" stroke-width="1.15" fill="none"/>
<path d="M503.48 649.3V675.4M499.48 649.3H507.48M499.48 675.4H507.48" stroke="#2e2e2e" stroke-width="1.15" fill="none"/>
<path d="M525.28 649.3V668.3M521.28 649.3H529.28M521.28 668.3H529.28" stroke="#2e2e2e" stroke-width="1.15" fill="none"/>
<path d="M563.96 651V679.6M559.96 651H567.96M559.96 679.6H567.96" stroke="#2e2e2e" stroke-width="1.15" fill="none"/>
<path d="M585.76 641.3V680.9M581.76 641.3H589.76M581.76 680.9H589.76" stroke="#2e2e2e" stroke-width="1.15" fill="none"/>
<path d="M624.44 653.3V683.4M620.44 653.3H628.44M620.44 683.4H628.44" stroke="#2e2e2e" stroke-width="1.15" fill="none"/>
<path d="M646.24 575V645M642.24 575H650.24M642.24 645H650.24" stroke="#2e2e2e" stroke-width="1.15" fill="none"/>
<path d="M684.92 678.4V691.4M680.92 678.4H688.92M680.92 691.4H688.92" stroke="#2e2e2e" stroke-width="1.15" fill="none"/>
<path d="M706.72 678.4V686.4M702.72 678.4H710.72M702.72 686.4H710.72" stroke="#2e2e2e" stroke-width="1.15" fill="none"/>
<rect x="427.6" y="629.8" width="298.5" height="11.7" fill="#fff"/>
<path d="M425.6 558.9V629.5" stroke="#000" stroke-width="2" fill="none"/>
<path d="M419.2 615.7H425.6" stroke="#000" stroke-width="1.8" fill="none"/>
<text x="417" y="618.6" transform="translate(417 618.6) scale(1 1.04) translate(-417 -618.6)" text-anchor="end" font-size="9.3" fill="#262626" stroke="#262626" stroke-width="0.3">200</text>
<path d="M419.2 587.6H425.6" stroke="#000" stroke-width="1.8" fill="none"/>
<text x="417" y="590.5" transform="translate(417 590.5) scale(1 1.04) translate(-417 -590.5)" text-anchor="end" font-size="9.3" fill="#262626" stroke="#262626" stroke-width="0.3">300</text>
<path d="M419.2 559.5H425.6" stroke="#000" stroke-width="1.8" fill="none"/>
<text x="417" y="562.4" transform="translate(417 562.4) scale(1 1.04) translate(-417 -562.4)" text-anchor="end" font-size="9.3" fill="#262626" stroke="#262626" stroke-width="0.3">400</text>
<path d="M421.8 629.5H429.4" stroke="#000" stroke-width="2" fill="none"/>
<path d="M425.6 641.3V711" stroke="#000" stroke-width="2" fill="none"/>
<path d="M419.2 711H425.6" stroke="#000" stroke-width="1.8" fill="none"/>
<text x="417" y="713.9" transform="translate(417 713.9) scale(1 1.04) translate(-417 -713.9)" text-anchor="end" font-size="9.3" fill="#262626" stroke="#262626" stroke-width="0.3">0</text>
<path d="M419.2 684.3H425.6" stroke="#000" stroke-width="1.8" fill="none"/>
<text x="417" y="687.2" transform="translate(417 687.2) scale(1 1.04) translate(-417 -687.2)" text-anchor="end" font-size="9.3" fill="#262626" stroke="#262626" stroke-width="0.3">50</text>
<path d="M419.2 657.6H425.6" stroke="#000" stroke-width="1.8" fill="none"/>
<text x="417" y="660.5" transform="translate(417 660.5) scale(1 1.04) translate(-417 -660.5)" text-anchor="end" font-size="9.3" fill="#262626" stroke="#262626" stroke-width="0.3">100</text>
<path d="M421.8 641.3H429.4" stroke="#000" stroke-width="2" fill="none"/>
<path d="M419 711H724.1" stroke="#000" stroke-width="2" fill="none"/>
<path d="M453.9 711V717.6" stroke="#000" stroke-width="2.2" fill="none"/>
<text x="453.9" y="727.6" transform="translate(453.9 727.6) scale(1 1.04) translate(-453.9 -727.6)" text-anchor="middle" font-size="9.3" fill="#262626" stroke="#262626" stroke-width="0.3">0</text>
<path d="M514.38 711V717.6" stroke="#000" stroke-width="2.2" fill="none"/>
<text x="514.38" y="727.6" transform="translate(514.38 727.6) scale(1 1.04) translate(-514.38 -727.6)" text-anchor="middle" font-size="9.3" fill="#262626" stroke="#262626" stroke-width="0.3">1</text>
<path d="M574.86 711V717.6" stroke="#000" stroke-width="2.2" fill="none"/>
<text x="574.86" y="727.6" transform="translate(574.86 727.6) scale(1 1.04) translate(-574.86 -727.6)" text-anchor="middle" font-size="9.3" fill="#262626" stroke="#262626" stroke-width="0.3">10</text>
<path d="M635.34 711V717.6" stroke="#000" stroke-width="2.2" fill="none"/>
<text x="635.34" y="727.6" transform="translate(635.34 727.6) scale(1 1.04) translate(-635.34 -727.6)" text-anchor="middle" font-size="9.3" fill="#262626" stroke="#262626" stroke-width="0.3">50</text>
<path d="M695.82 711V717.6" stroke="#000" stroke-width="2.2" fill="none"/>
<text x="695.82" y="727.6" transform="translate(695.82 727.6) scale(1 1.04) translate(-695.82 -727.6)" text-anchor="middle" font-size="9.3" fill="#262626" stroke="#262626" stroke-width="0.3">100</text>
<text x="563.5" y="741.2" text-anchor="middle" font-size="12.5" fill="#262626">concentration [µg/mL]</text>
<text transform="translate(394.4 636.35) rotate(-90)" text-anchor="middle" font-size="12.5" fill="#262626">ATP content (% of control)</text>
<text x="441.3" y="553.7" transform="translate(441.3 553.7) scale(1 1.035) translate(-441.3 -553.7)" font-size="16.2" font-weight="bold" fill="#000">Males</text>
<rect x="711.1" y="561.3" width="16" height="7.7" fill="#626262" stroke="#555" stroke-width="1"/>
<rect x="711.1" y="581.8" width="16" height="7.7" fill="url(#p32)" stroke="#555" stroke-width="1"/>
<text x="736.2" y="569" transform="translate(736.2 569) scale(1 1.04) translate(-736.2 -569)" font-size="12.6" fill="#262626">F6 ISE</text>
<text x="736.2" y="589.5" transform="translate(736.2 589.5) scale(1 1.04) translate(-736.2 -589.5)" font-size="12.6" fill="#262626">F6 WR</text>
<rect x="15.87" y="113.3" width="2.11" height="2.32" fill="#fff"/>
<rect x="18.89" y="113.3" width="2.06" height="2.32" fill="#fff"/>
<rect x="15.87" y="83.06" width="2.11" height="2.32" fill="#fff"/>
<rect x="18.89" y="83.06" width="2.06" height="2.32" fill="#fff"/>
<rect x="125.7" y="186.88" width="2.11" height="2.32" fill="#fff"/>
<rect x="128.72" y="186.88" width="2.06" height="2.32" fill="#fff"/>
<rect x="183.66" y="186.88" width="2.11" height="2.32" fill="#fff"/>
<rect x="186.68" y="186.88" width="2.06" height="2.32" fill="#fff"/>
<rect x="302.17" y="186.88" width="2.11" height="2.32" fill="#fff"/>
<rect x="305.2" y="186.88" width="2.06" height="2.32" fill="#fff"/>
<rect x="405.34" y="123.87" width="2.04" height="2.3" fill="#fff"/>
<rect x="408.27" y="123.87" width="2" height="2.3" fill="#fff"/>
<rect x="405.34" y="99.4" width="2.04" height="2.3" fill="#fff"/>
<rect x="408.27" y="99.4" width="2" height="2.3" fill="#fff"/>
<rect x="512.25" y="186.1" width="2.04" height="2.3" fill="#fff"/>
<rect x="515.17" y="186.1" width="2" height="2.3" fill="#fff"/>
<rect x="568.63" y="186.1" width="2.04" height="2.3" fill="#fff"/>
<rect x="571.55" y="186.1" width="2" height="2.3" fill="#fff"/>
<rect x="683.88" y="186.1" width="2.04" height="2.3" fill="#fff"/>
<rect x="686.81" y="186.1" width="2" height="2.3" fill="#fff"/>
<rect x="739.56" y="26.77" width="2.72" height="2.53" fill="#fff"/>
<rect x="743.46" y="26.77" width="2.66" height="2.53" fill="#fff"/>
<rect x="739.56" y="46.77" width="2.72" height="2.53" fill="#fff"/>
<rect x="743.46" y="46.77" width="2.66" height="2.53" fill="#fff"/>
<rect x="16.04" y="343.92" width="2.09" height="2.31" fill="#fff"/>
<rect x="19.03" y="343.92" width="2.04" height="2.31" fill="#fff"/>
<rect x="16.04" y="294.19" width="2.09" height="2.31" fill="#fff"/>
<rect x="19.03" y="294.19" width="2.04" height="2.31" fill="#fff"/>
<rect x="124.74" y="456.99" width="2.09" height="2.31" fill="#fff"/>
<rect x="127.73" y="456.99" width="2.04" height="2.31" fill="#fff"/>
<rect x="181.9" y="456.99" width="2.09" height="2.31" fill="#fff"/>
<rect x="184.89" y="456.99" width="2.04" height="2.31" fill="#fff"/>
<rect x="298.79" y="456.99" width="2.09" height="2.31" fill="#fff"/>
<rect x="301.78" y="456.99" width="2.04" height="2.31" fill="#fff"/>
<rect x="400.67" y="399.12" width="2.18" height="2.35" fill="#fff"/>
<rect x="403.79" y="399.12" width="2.13" height="2.35" fill="#fff"/>
<rect x="400.67" y="375.75" width="2.18" height="2.35" fill="#fff"/>
<rect x="403.79" y="375.75" width="2.13" height="2.35" fill="#fff"/>
<rect x="510.76" y="459.15" width="2.18" height="2.35" fill="#fff"/>
<rect x="513.88" y="459.15" width="2.13" height="2.35" fill="#fff"/>
<rect x="568.58" y="459.15" width="2.18" height="2.35" fill="#fff"/>
<rect x="571.7" y="459.15" width="2.13" height="2.35" fill="#fff"/>
<rect x="686.89" y="459.15" width="2.18" height="2.35" fill="#fff"/>
<rect x="690.01" y="459.15" width="2.13" height="2.35" fill="#fff"/>
<rect x="16.04" y="612.06" width="2.09" height="2.31" fill="#fff"/>
<rect x="19.03" y="612.06" width="2.04" height="2.31" fill="#fff"/>
<rect x="16.04" y="562.49" width="2.09" height="2.31" fill="#fff"/>
<rect x="19.03" y="562.49" width="2.04" height="2.31" fill="#fff"/>
<rect x="124.74" y="724.99" width="2.09" height="2.31" fill="#fff"/>
<rect x="127.73" y="724.99" width="2.04" height="2.31" fill="#fff"/>
<rect x="181.9" y="724.99" width="2.09" height="2.31" fill="#fff"/>
<rect x="184.89" y="724.99" width="2.04" height="2.31" fill="#fff"/>
<rect x="298.79" y="724.99" width="2.09" height="2.31" fill="#fff"/>
<rect x="301.78" y="724.99" width="2.04" height="2.31" fill="#fff"/>
<rect x="401.67" y="659.48" width="2.11" height="2.32" fill="#fff"/>
<rect x="404.69" y="659.48" width="2.06" height="2.32" fill="#fff"/>
<rect x="511.98" y="726.58" width="2.11" height="2.32" fill="#fff"/>
<rect x="515" y="726.58" width="2.06" height="2.32" fill="#fff"/>
<rect x="569.87" y="726.58" width="2.11" height="2.32" fill="#fff"/>
<rect x="572.89" y="726.58" width="2.06" height="2.32" fill="#fff"/>
<rect x="688.24" y="726.58" width="2.11" height="2.32" fill="#fff"/>
<rect x="691.27" y="726.58" width="2.06" height="2.32" fill="#fff"/></svg>
</body></html>
